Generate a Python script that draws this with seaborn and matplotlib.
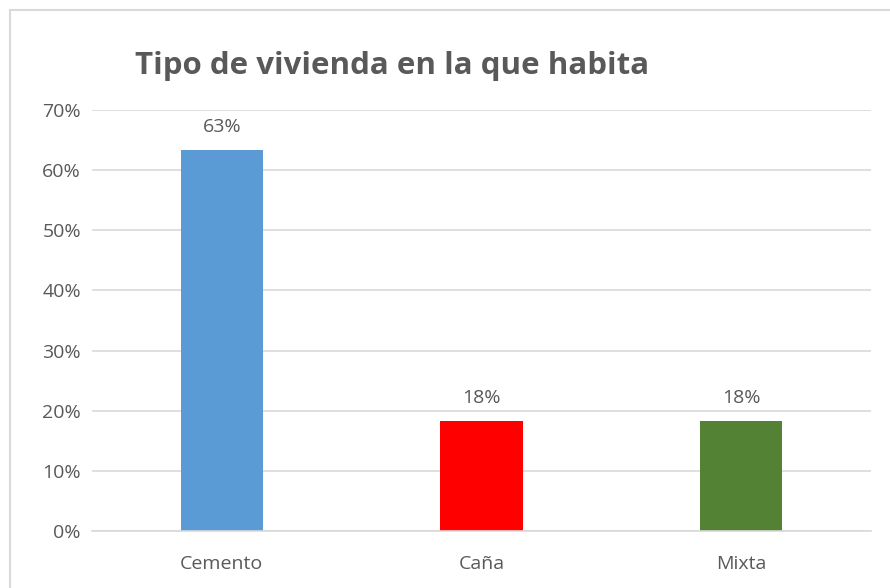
import matplotlib
matplotlib.use("Agg")
import matplotlib.pyplot as plt
import matplotlib.patches as mpatches
from matplotlib.ticker import PercentFormatter
import pandas as pd
import seaborn as sns

# Data
categories = ["Cemento", "Caña", "Mixta"]
values = [0.633, 0.183, 0.183]
labels = ["63%", "18%", "18%"]
colors = ["#5B9BD5", "#FF0000", "#548235"]

title = "Tipo de vivienda en la que habita"
text_color = "#595959"
grid_color = "#D9D9D9"


def main():
    sns.set_theme(style="white")
    plt.rcParams["font.family"] = ["Open Sans", "DejaVu Sans"]

    df = pd.DataFrame({"Tipo": categories, "Valor": values})

    fig = plt.figure(figsize=(8.9, 5.88), dpi=100)
    ax = fig.add_axes([92 / 890, 1 - 531 / 588, (871 - 92) / 890, (531 - 110) / 588])

    sns.barplot(data=df, x="Tipo", y="Valor", hue="Tipo", palette=colors,
                width=0.316, legend=False, ax=ax, saturation=1, linewidth=0)

    ax.set_ylim(0, 0.7)
    ax.set_yticks([i / 10 for i in range(8)])
    ax.yaxis.set_major_formatter(PercentFormatter(1.0, decimals=0))
    ax.set_xlim(-0.5, len(categories) - 0.5)
    ax.set_xlabel("")
    ax.set_ylabel("")

    ax.grid(True, axis="y", color=grid_color, linewidth=1.2)
    ax.set_axisbelow(True)
    for side in ["top", "right", "left"]:
        ax.spines[side].set_visible(False)
    ax.spines["bottom"].set_color(grid_color)
    ax.spines["bottom"].set_linewidth(1.2)
    ax.tick_params(axis="both", length=0, labelsize=14, colors=text_color)
    ax.tick_params(axis="y", pad=8)
    ax.tick_params(axis="x", pad=17)

    # Value labels above the bars
    for i, (v, lab) in enumerate(zip(values, labels)):
        ax.annotate(lab, (i, v), xytext=(0, 10), textcoords="offset points",
                    ha="center", va="bottom", fontsize=14, color=text_color)

    fig.text(135 / 890, 1 - 66 / 588, title, fontsize=22.5, fontweight="bold",
             color=text_color, ha="left", va="center")

    # Light chart frame (only left/top visible in the reference)
    frame = mpatches.Rectangle((10 / 890, -0.1), 1.2, 1 - 10 / 588 + 0.1,
                               transform=fig.transFigure, fill=False,
                               edgecolor=grid_color, linewidth=1.5)
    fig.patches.append(frame)

    fig.savefig("out.png", dpi=100)
    plt.close(fig)


if __name__ == "__main__":
    main()
